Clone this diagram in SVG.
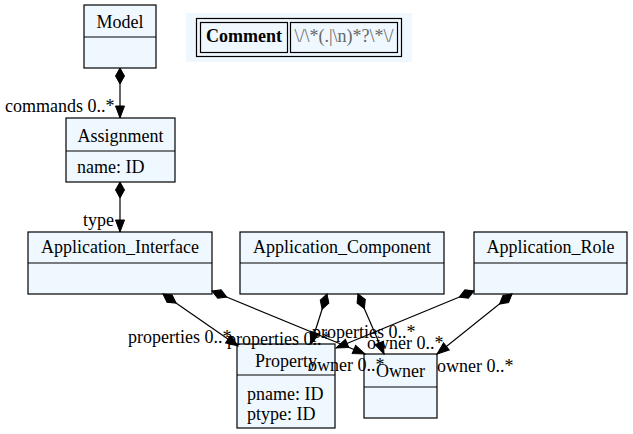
<svg xmlns="http://www.w3.org/2000/svg" width="633" height="434" viewBox="0 0 633 434">
<style>
text{font-family:"Liberation Serif","Times New Roman",serif;font-size:18px;fill:#000}
.box{fill:#F0F8FF;stroke:#000;stroke-width:1.2}
.div{stroke:#000;stroke-width:1.2}
.t{text-anchor:middle}
.edge{fill:none;stroke:#000;stroke-width:1.2;marker-start:url(#dia);marker-end:url(#arr)}
</style>
<defs>
<marker id="dia" markerUnits="userSpaceOnUse" markerWidth="18" markerHeight="12" refX="0" refY="6" orient="auto" overflow="visible">
<path d="M0,6 L8,1.5 L16,6 L8,10.5 Z" fill="#000" stroke="#000"/>
</marker>
<marker id="arr" markerUnits="userSpaceOnUse" markerWidth="14" markerHeight="12" refX="12" refY="6" orient="auto" overflow="visible">
<path d="M0,1.5 L12,6 L0,10.5 Z" fill="#000" stroke="#000"/>
</marker>
</defs>
<rect width="633" height="434" fill="#fff"/>

<g id="comment">
<rect x="186" y="13" width="226" height="49" fill="#F0F8FF"/>
<rect x="196.5" y="18.5" width="205" height="38" fill="#F0F8FF" stroke="#000" stroke-width="1.2"/>
<rect x="200.5" y="22.5" width="87" height="30" fill="#F0F8FF" stroke="#000" stroke-width="1.2"/>
<rect x="290.5" y="22.5" width="107" height="30" fill="#F0F8FF" stroke="#000" stroke-width="1.2"/>
<text class="t" x="244" y="42" font-weight="bold">Comment</text>
<text class="t" x="344" y="42" style="fill:#666">\/\*(.|\n)*?\*\/</text>
</g>

<g id="Model">
<rect class="box" x="84" y="5" width="72" height="63"/>
<line class="div" x1="84" y1="37" x2="156" y2="37"/>
<text class="t" x="120" y="28">Model</text>
</g>

<g id="Assignment">
<rect class="box" x="66" y="118" width="109" height="64"/>
<line class="div" x1="66" y1="151" x2="175" y2="151"/>
<text class="t" x="120.5" y="142">Assignment</text>
<text x="77" y="173">name: ID</text>
</g>

<g id="Application_Interface">
<rect class="box" x="28" y="232" width="184" height="62"/>
<line class="div" x1="28" y1="263" x2="212" y2="263"/>
<text class="t" x="120" y="253">Application_Interface</text>
</g>

<g id="Application_Component">
<rect class="box" x="240" y="232" width="204" height="62"/>
<line class="div" x1="240" y1="263" x2="444" y2="263"/>
<text class="t" x="342" y="253">Application_Component</text>
</g>

<g id="Application_Role">
<rect class="box" x="474" y="232" width="153" height="62"/>
<line class="div" x1="474" y1="263" x2="627" y2="263"/>
<text class="t" x="550.5" y="253">Application_Role</text>
</g>

<g id="Property">
<rect class="box" x="237" y="344" width="98" height="84"/>
<line class="div" x1="237" y1="375" x2="335" y2="375"/>
<text class="t" x="286" y="367">Property</text>
<text x="247" y="400">pname: ID</text>
<text x="247" y="420">ptype: ID</text>
</g>

<g id="Owner">
<rect class="box" x="364" y="354" width="73" height="64"/>
<line class="div" x1="364" y1="387" x2="437" y2="387"/>
<text class="t" x="400.5" y="377">Owner</text>
</g>

<g id="connectors">
<path class="edge" d="M120,68 L120,118"/>
<path class="edge" d="M120,182 L120,232"/>
<path class="edge" d="M163,294 L238,346"/>
<path class="edge" d="M212,291 L365,354"/>
<path class="edge" d="M327,294 L311,344"/>
<path class="edge" d="M358,294 L384,354"/>
<path class="edge" d="M474,291 L336,348"/>
<path class="edge" d="M512,294 L437,354"/>
<text x="5" y="112">commands 0..*</text>
<text x="83" y="226">type</text>
<text x="128" y="343">properties 0..*</text>
<text x="227" y="345">properties 0..*</text>
<text x="312" y="338">properties 0..*</text>
<text x="367" y="349">owner 0..*</text>
<text x="308" y="371">owner 0..*</text>
<text x="437" y="372">owner 0..*</text>
</g>
</svg>
